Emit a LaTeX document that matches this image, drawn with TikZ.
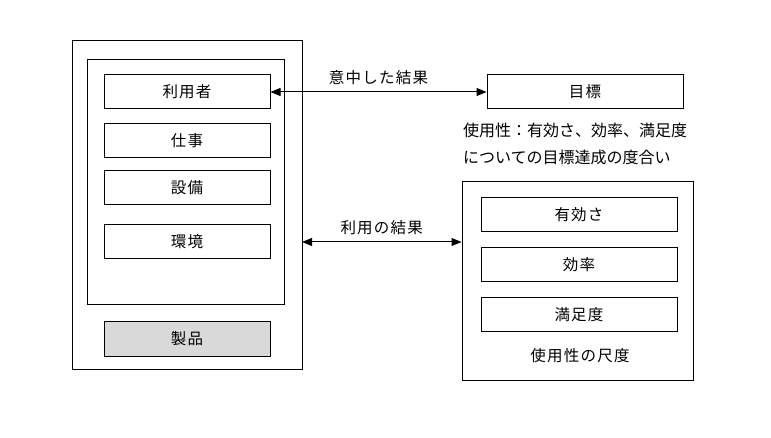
\documentclass[tikz,border=0pt]{standalone}
\usepackage{fontspec}
\newfontfamily\jp{Noto Sans CJK JP}
\newfontfamily\jpsp[LetterSpace=8]{Noto Sans CJK JP}
\usetikzlibrary{arrows.meta}
\begin{document}
\begin{tikzpicture}[x=1pt,y=-1pt,
  box/.style={draw=black,line width=1pt},
  item/.style={draw=black,line width=1pt,minimum width=166pt,minimum height=34pt,inner sep=0pt,font=\jpsp\fontsize{15.5}{18}\selectfont},
  lbl/.style={font=\jp\fontsize{16}{18}\selectfont,inner sep=0pt},
  slbl/.style={font=\jpsp\fontsize{15.5}{18}\selectfont,inner sep=0pt},
  conn/.style={line width=1pt,{Triangle[length=10pt,width=8pt]}-{Triangle[length=10pt,width=8pt]}}]
\useasboundingbox (0,0) rectangle (771,438);
\fill[white] (0,0) rectangle (771,438);
% left
\draw[box] (72,41) rectangle (302,369);
\coordinate (outerR) at (302,242);
\draw[box] (87,60) rectangle (284,305);
\node[item] (user) at (187,92) {利用者};
\node[item] (task) at (187,141) {仕事};
\node[item] (equip) at (187,188) {設備};
\node[item] (env) at (187,242) {環境};
\node[item,fill={rgb,255:red,217;green,217;blue,217}] (prod) at (187,339) {製品};
% right top
\node[item,minimum width=196pt] (goal) at (585,92) {目標};
\node[lbl,anchor=west] (n1) at (463,130) {使用性：有効さ、効率、満足度};
\node[lbl,anchor=west] (n2) at (463,157) {についての目標達成の度合い};
% right box
\node[box,minimum width=231pt,minimum height=198pt,inner sep=0pt] (meas) at (577.5,281) {};
\node[item,minimum width=196pt] (eff) at (579,215) {有効さ};
\node[item,minimum width=196pt] (effi) at (579,264.5) {効率};
\node[item,minimum width=196pt] (sat) at (579,314.5) {満足度};
\node[slbl] (scale) at (580,356) {使用性の尺度};
% arrows
\draw[conn] (user.east) -- node[slbl,above=7pt] {意中した結果} (goal.west);
\draw[conn] (outerR) -- node[slbl,above=7pt] {利用の結果} (meas.west |- outerR);
\end{tikzpicture}
\end{document}
